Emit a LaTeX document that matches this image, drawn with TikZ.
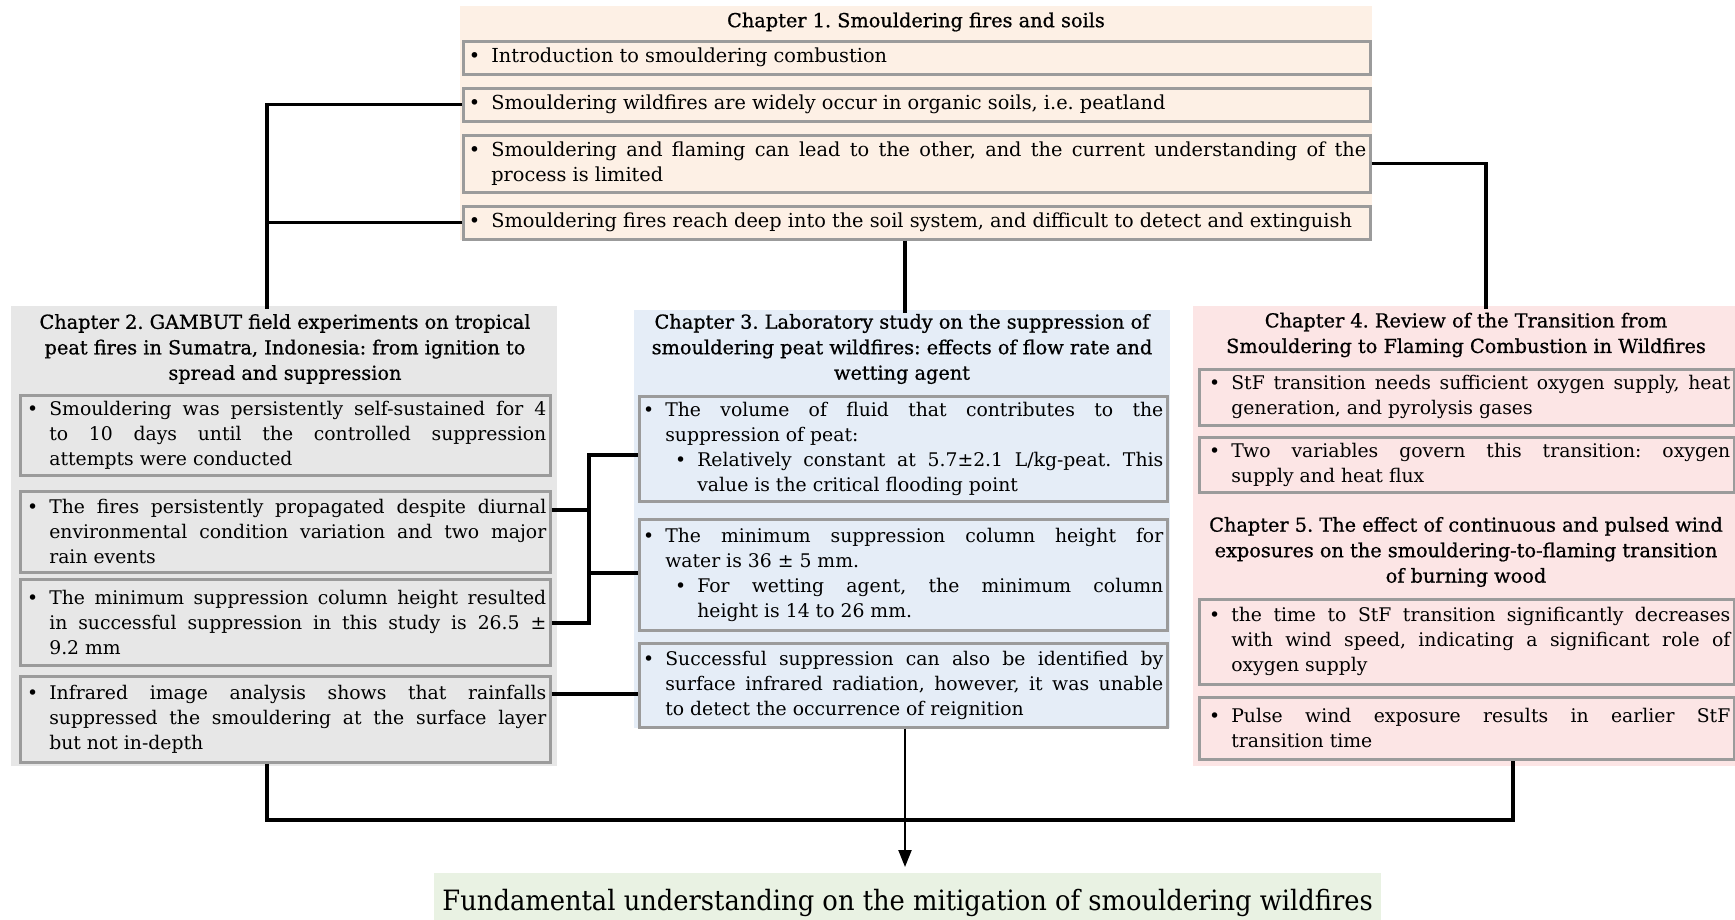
\documentclass[tikz,border=0pt]{standalone}
\usepackage{fontspec}
\setmainfont{DejaVu Serif}
\newfontfamily\headfont{DejaVu Serif}[FakeBold=0.8]
\usetikzlibrary{arrows.meta}
\frenchspacing

\definecolor{bgone}{RGB}{253,240,229}
\definecolor{bgtwo}{RGB}{231,231,231}
\definecolor{bgthree}{RGB}{229,237,247}
\definecolor{bgfour}{RGB}{252,229,229}
\definecolor{bgfive}{RGB}{233,242,227}
\definecolor{framegray}{RGB}{155,155,155}

% bullet paragraph with hanging text; optional argument = indent of the text
\newcommand{\bitem}[2][24pt]{\leftskip=#1\relax\noindent\llap{\textbullet\hspace{11pt}}#2\par}
\newcommand{\bodysize}{\fontsize{18.8}{25}\selectfont\frenchspacing\tolerance=10000\relax\hyphenpenalty=10000\relax}
\newcommand{\introsize}{\fontsize{19.3}{25.5}\selectfont\frenchspacing\tolerance=10000\relax\hyphenpenalty=10000\relax}

\tikzset{
  panel/.style={fill=#1, draw=none, anchor=north west, inner sep=0pt},
  pbox/.style={draw=framegray, line width=2.6pt, fill=#1, anchor=north west,
    inner xsep=4pt, inner ysep=0pt, align=justify, font=\bodysize},
  pboxone/.style={pbox=bgone, text width=899pt, minimum height=33pt, font=\introsize},
  chead/.style={align=center, font=\headfont\fontsize{19.3}{25.5}\selectfont, inner sep=0pt},
  wire/.style={line width=3.3pt},
  arrowwire/.style={line width=2.2pt, -{Triangle[length=17pt,width=13pt]}},
}

\begin{document}
\begin{tikzpicture}[x=1pt,y=-1pt]
\useasboundingbox (0,0) rectangle (1735,920);

% ---------- background panels ----------
\node[panel=bgone, minimum width=912pt, minimum height=234pt] (p1) at (460,6) {};
\node[panel=bgtwo, minimum width=546pt, minimum height=460pt] (p2) at (11,306) {};
\node[panel=bgthree, minimum width=536pt, minimum height=418pt] (p3) at (634,310) {};
\node[panel=bgfour, minimum width=542pt, minimum height=460pt] (p4) at (1193,306) {};

% ---------- Chapter 1 ----------
\node[chead] (t1) at (916,22) {Chapter 1. Smouldering fires and soils};
\node[pboxone] (b11) at (462,40)
  {\bitem{Introduction to smouldering combustion}};
\node[pboxone] (b12) at (462,87)
  {\bitem{Smouldering wildfires are widely occur in organic soils, i.e. peatland}};
\node[pboxone, minimum height=57pt] (b13) at (462,134)
  {\bitem{Smouldering and flaming can lead to the other, and the current understanding of the\linebreak process is limited}};
\node[pboxone] (b14) at (462,205)
  {\bitem{Smouldering fires reach deep into the soil system, and difficult to detect and extinguish}};

% ---------- Chapter 2 ----------
\node[chead] (t2) at (285,349) {Chapter 2. GAMBUT field experiments on tropical\\peat fires in Sumatra, Indonesia: from ignition to\\spread and suppression};
\node[pbox=bgtwo, text width=522pt, minimum height=80pt] (b21) at (19,394)
  {\bitem[25pt]{Smouldering was persistently self-sustained for 4\linebreak to 10 days until the controlled suppression\linebreak attempts were conducted}};
\node[pbox=bgtwo, text width=522pt, minimum height=81pt] (b22) at (19,490)
  {\bitem[25pt]{The fires persistently propagated despite diurnal\linebreak environmental condition variation and two major\linebreak rain events}};
\node[pbox=bgtwo, text width=522pt, minimum height=86pt] (b23) at (19,578)
  {\bitem[25pt]{The minimum suppression column height resulted\linebreak in successful suppression in this study is 26.5 ±\linebreak 9.2 mm}};
\node[pbox=bgtwo, text width=522pt, minimum height=86pt] (b24) at (19,675)
  {\bitem[25pt]{Infrared image analysis shows that rainfalls\linebreak suppressed the smouldering at the surface layer\linebreak but not in-depth}};

% ---------- Chapter 3 ----------
\node[chead] (t3) at (902,349) {Chapter 3. Laboratory study on the suppression of\\smouldering peat wildfires: effects of flow rate and\\wetting agent};
\node[pbox=bgthree, text width=520pt, minimum height=105pt] (b31) at (638,395)
  {\bitem[22pt]{The volume of fluid that contributes to the\linebreak suppression of peat:}
   \bitem[54pt]{Relatively constant at 5.7±2.1 L/kg-peat. This\linebreak value is the critical flooding point}};
\node[pbox=bgthree, text width=520pt, minimum height=111pt] (b32) at (638,518)
  {\bitem[22pt]{The minimum suppression column height for\linebreak water is 36 ± 5 mm.}
   \bitem[54pt]{For wetting agent, the minimum column\linebreak height is 14 to 26 mm.}};
\node[pbox=bgthree, text width=520pt, minimum height=84pt] (b33) at (638,642)
  {\bitem[22pt]{Successful suppression can also be identified by\linebreak surface infrared radiation, however, it was unable\linebreak to detect the occurrence of reignition}};

% ---------- Chapters 4 and 5 ----------
\node[chead] (t4) at (1466,335) {Chapter 4. Review of the Transition from\\Smouldering to Flaming Combustion in Wildfires};
\node[pbox=bgfour, text width=527pt, minimum height=56pt] (b41) at (1198,368)
  {\bitem[28pt]{StF transition needs sufficient oxygen supply, heat\linebreak generation, and pyrolysis gases}};
\node[pbox=bgfour, text width=527pt, minimum height=55pt] (b42) at (1198,436)
  {\bitem[28pt]{Two variables govern this transition: oxygen\linebreak supply and heat flux}};
\node[chead] (t5) at (1466,552) {Chapter 5. The effect of continuous and pulsed wind\\exposures on the smouldering-to-flaming transition\\of burning wood};
\node[pbox=bgfour, text width=527pt, minimum height=85pt] (b51) at (1198,598)
  {\bitem[28pt]{the time to StF transition significantly decreases\linebreak with wind speed, indicating a significant role of\linebreak oxygen supply}};
\node[pbox=bgfour, text width=527pt, minimum height=62pt] (b52) at (1198,696)
  {\bitem[28pt]{Pulse wind exposure results in earlier StF\linebreak transition time}};

% ---------- conclusion ----------
\node[panel=bgfive, minimum width=947pt, minimum height=60pt,
      font=\fontsize{28}{32}\selectfont] (goal) at (434,873)
  {\scalebox{0.92}[1]{Fundamental understanding on the mitigation of smouldering wildfires}};

% ---------- connectors ----------
\coordinate (busL) at (267,0);
\coordinate (busR) at (1486,0);
\coordinate (mid) at (905,0);
\coordinate (j1) at (589,455);
\coordinate (j2) at (589,510);
\coordinate (j3) at (589,573);
\coordinate (j4) at (589,623);
\coordinate (j5) at (589,694);
\coordinate (bl) at (267,820);
\coordinate (br) at (1513,820);

\draw[wire] (b12.west) -| ([yshift=-3pt]busL |- p2.north);
\draw[wire] (b14.west) -- (b14.west -| busL);
\draw[wire] (b13.east) -| ([yshift=-3pt]busR |- p4.north);
\draw[wire] (mid |- b14.south) -- ([yshift=-3pt]mid |- p3.north);

\draw[wire] (b22.east |- j2) -- (j2);
\draw[wire] (b23.east |- j4) -- (j4) -- (j1) -- (j1 -| b31.west);
\draw[wire] (j3) -- (j3 -| b32.west);
\draw[wire] (b24.east |- j5) -- (j5 -| b33.west);

\draw[wire] (bl |- b24.south) -- (bl) -- (br) -- (br |- b52.south);
\draw[arrowwire, shorten >=6pt] (mid |- b33.south) -- (mid |- goal.north);
\end{tikzpicture}
\end{document}
